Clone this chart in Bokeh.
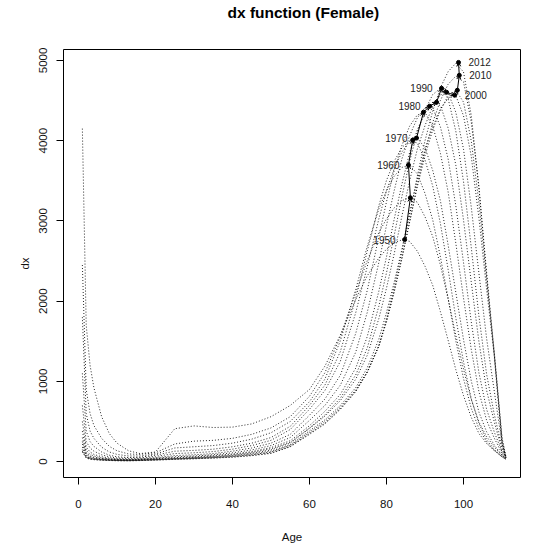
import math
from bokeh.plotting import figure
from bokeh.models import ColumnDataSource, Arrow, OpenHead, FixedTicker, Range1d, Title
from bokeh.embed import file_html
from bokeh.resources import INLINE
from bokeh.core.properties import value

# ---------------- data ----------------
ages = [1, 2, 3, 4, 6, 8, 10, 13, 16, 20, 25, 30, 35, 40, 45, 50, 55, 60, 64, 68, 72, 75, 78,
        80, 82, 84, 86, 88, 90, 92, 94, 96, 98, 100, 102, 104, 106, 108, 110, 111]

dx_1950 = [4150, 1700, 1200, 920, 560, 350, 230, 135, 100, 120, 410, 445, 425, 430, 470, 560, 700,
           900, 1190, 1577, 2020, 2316, 2537,
           2648, 2725, 2764, 2745, 2623, 2435, 2197, 1868, 1513, 1146, 822, 553, 351, 224, 138, 60, 30]
dx_1955 = [2450, 900, 600, 450, 290, 190, 135, 95, 90, 110, 220, 255, 265, 290, 340, 420, 560,
           815, 1108, 1559, 2104, 2505, 2854,
           3025, 3163, 3252, 3288, 3232, 3051, 2805, 2450, 2025, 1575, 1151, 776, 493, 312, 181, 80, 40]
dx_1960 = [1800, 600, 380, 290, 180, 120, 90, 70, 70, 95, 170, 185, 200, 230, 280, 360, 500,
           747, 1028, 1505, 2144, 2684, 3150,
           3375, 3557, 3667, 3693, 3586, 3342, 3013, 2551, 2037, 1505, 1035, 665, 410, 244, 137, 60, 30]
dx_1965 = [1100, 380, 250, 190, 120, 80, 60, 50, 55, 80, 130, 140, 155, 185, 230, 300, 440,
           701, 954, 1370, 2032, 2625, 3190,
           3506, 3743, 3915, 3999, 3971, 3759, 3434, 2965, 2396, 1791, 1242, 785, 477, 272, 152, 65, 30]
dx_1970 = [700, 250, 170, 130, 85, 60, 45, 40, 45, 65, 100, 110, 125, 155, 200, 265, 400,
           653, 887, 1250, 1855, 2431, 3024,
           3379, 3649, 3859, 3992, 4031, 3911, 3629, 3250, 2701, 2109, 1520, 1008, 617, 371, 206, 80, 35]
dx_1975 = [500, 180, 120, 90, 60, 45, 35, 30, 35, 50, 75, 85, 100, 130, 170, 230, 340,
           579, 780, 1076, 1598, 2134, 2800,
           3240, 3632, 3941, 4181, 4320, 4351, 4181, 3841, 3362, 2722, 2038, 1402, 871, 514, 292, 100, 40]
dx_1980 = [380, 140, 90, 70, 45, 35, 28, 25, 30, 42, 60, 70, 85, 110, 145, 200, 300,
           514, 700, 952, 1364, 1860, 2480,
           2945, 3379, 3773, 4061, 4283, 4411, 4407, 4172, 3773, 3189, 2480, 1745, 1107, 651, 368, 120, 45]
dx_1985 = [300, 110, 70, 55, 38, 30, 24, 22, 26, 36, 50, 60, 75, 95, 125, 175, 260,
           448, 627, 838, 1165, 1559, 2123,
           2553, 3023, 3458, 3852, 4134, 4345, 4466, 4439, 4157, 3695, 3010, 2240, 1496, 887, 493, 140, 50]
dx_1990 = [250, 90, 58, 45, 32, 25, 20, 18, 22, 30, 42, 52, 65, 85, 115, 160, 240,
           419, 582, 791, 1080, 1415, 1936,
           2354, 2820, 3304, 3741, 4109, 4383, 4574, 4652, 4523, 4118, 3490, 2675, 1815, 1089, 586, 170, 50]
dx_1995 = [220, 80, 50, 40, 28, 22, 18, 16, 20, 28, 38, 48, 60, 78, 105, 145, 230,
           414, 566, 760, 1026, 1326, 1781,
           2163, 2591, 3061, 3498, 3894, 4189, 4428, 4571, 4594, 4354, 3894, 3176, 2348, 1533, 875, 220, 60]
dx_2000 = [180, 65, 42, 34, 24, 19, 16, 14, 18, 25, 35, 44, 55, 70, 95, 130, 210,
           384, 521, 699, 922, 1169, 1525,
           1858, 2237, 2648, 3100, 3516, 3890, 4169, 4392, 4529, 4561, 4310, 3808, 3036, 2146, 1320, 300, 60]
dx_2005 = [150, 55, 36, 29, 21, 17, 14, 12, 16, 22, 32, 40, 50, 64, 86, 118, 200,
           366, 500, 676, 893, 1120, 1449,
           1754, 2129, 2545, 2985, 3425, 3813, 4133, 4383, 4559, 4628, 4480, 3999, 3226, 2268, 1361, 280, 60]
dx_2010 = [130, 48, 32, 26, 19, 15, 12, 11, 14, 20, 30, 37, 46, 58, 78, 108, 190,
           350, 480, 660, 880, 1117, 1435,
           1743, 2113, 2527, 2985, 3452, 3870, 4227, 4501, 4703, 4804, 4732, 4236, 3418, 2359, 1348, 250, 55]
dx_2012 = [120, 45, 30, 24, 18, 14, 11, 10, 13, 19, 28, 35, 44, 55, 74, 102, 185,
           340, 470, 650, 870, 1110, 1440,
           1780, 2180, 2620, 3070, 3560, 4000, 4370, 4660, 4860, 4965, 4856, 4318, 3418, 2318, 1303, 220, 50]

years = [1950, 1955, 1960, 1965, 1970, 1975, 1980, 1985, 1990, 1995, 2000, 2005, 2010, 2012]
curves = [dx_1950, dx_1955, dx_1960, dx_1965, dx_1970, dx_1975, dx_1980,
          dx_1985, dx_1990, dx_1995, dx_2000, dx_2005, dx_2010, dx_2012]

# modal age and dx at the mode, one per year above
peak_age = [84.7, 86.2, 85.7, 86.8, 87.8, 89.6, 91.2, 93.0, 94.3, 95.6, 97.7, 98.4, 98.9, 98.7]
peak_dx = [2767, 3288, 3697, 4007, 4032, 4355, 4429, 4479, 4653, 4603, 4566, 4628, 4814, 4975]

left_labels = ["1950", "1960", "1970", "1980", "1990"]
right_labels = ["2000", "2010", "2012"]

x_ticks = [0, 20, 40, 60, 80, 100]
y_ticks = [0, 1000, 2000, 3000, 4000, 5000]

FONT = "Liberation Sans"
X0, X1 = -3.9, 114.8
Y0, Y1 = -198, 5136

# ---------------- figure ----------------
p = figure(width=556, height=545, output_backend="svg", toolbar_location=None,
           x_range=Range1d(X0, X1), y_range=Range1d(Y0, Y1),
           min_border_left=63, min_border_right=36, min_border_top=49, min_border_bottom=66,
           background_fill_color="white", border_fill_color="white")

# spacer between the plot box and the title
p.add_layout(Title(text=" ", text_font_size="10px", standoff=16), "above")

p.title.text = "dx function (Female)"
p.title.align = "left"
p.title.offset = 164
p.title.standoff = 0
p.title.text_font = FONT
p.title.text_font_size = "15.5px"
p.title.text_font_style = "bold"
p.title.text_color = "black"

p.outline_line_color = "black"
p.outline_line_width = 1
p.grid.visible = False

for ax in (p.xaxis[0], p.yaxis[0]):
    ax.axis_line_color = None
    ax.major_tick_out = 7
    ax.major_tick_in = 0
    ax.minor_tick_line_color = None
    ax.major_tick_line_color = "black"
    ax.major_label_text_font = FONT
    ax.major_label_text_font_size = "11.5px"
    ax.major_label_text_color = "#111111"
    ax.axis_label_text_font = FONT
    ax.axis_label_text_font_size = "11.5px"
    ax.axis_label_text_font_style = "normal"
    ax.axis_label_text_color = "#111111"

p.xaxis.ticker = FixedTicker(ticks=x_ticks)
p.yaxis.ticker = FixedTicker(ticks=y_ticks)
p.xaxis.axis_label = "Age"
p.yaxis.axis_label = "dx"
p.xaxis.major_label_standoff = 15
p.xaxis.axis_label_standoff = 20
p.yaxis.major_label_orientation = "vertical"
p.yaxis.major_label_standoff = 9
p.yaxis.axis_label_standoff = 6

for yr, vals in zip(years, curves):
    p.line(ages, vals, line_color="black", line_width=1, line_dash="1 2", line_alpha=0.85)

# arrows between successive modes
arr_src = ColumnDataSource(dict(x0=peak_age[:-1], y0=peak_dx[:-1], x1=peak_age[1:], y1=peak_dx[1:]))
p.add_layout(Arrow(end=OpenHead(size=4, line_width=1, line_color="black"),
                   x_start="x0", y_start="y0", x_end="x1", y_end="y1",
                   line_color="black", line_width=1, source=arr_src))

p.scatter(peak_age, peak_dx, size=4, color="black")

# labels
lx, ly, rx, ry = [], [], [], []
for yr, a, d in zip(years, peak_age, peak_dx):
    s = str(yr)
    if s in left_labels:
        lx.append(a); ly.append(d)
    elif s in right_labels:
        rx.append(a); ry.append(d)

p.text(lx, ly, text=left_labels, text_align="right", text_baseline="middle", x_offset=-9,
       text_font=value(FONT), text_font_size="10px", text_color="#222222")
p.text(rx, ry, text=right_labels, text_align="left", text_baseline="middle", x_offset=10,
       text_font=value(FONT), text_font_size="10px", text_color="#222222")

open("out.html", "w").write(file_html(p, INLINE))
